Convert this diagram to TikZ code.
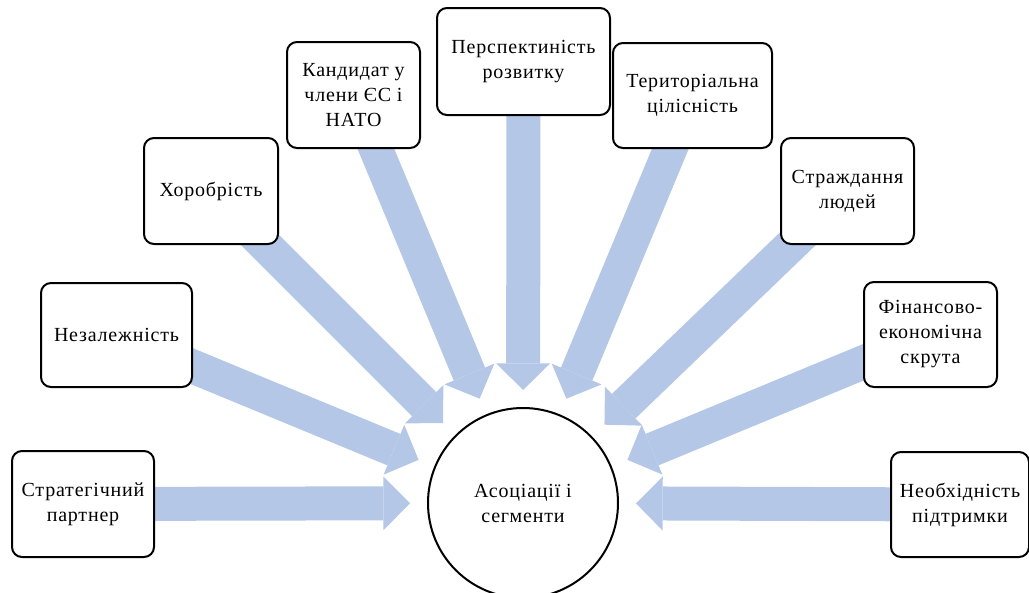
\documentclass[tikz,border=0pt]{standalone}
\usepackage{fontspec}
\setmainfont[LetterSpace=4]{Liberation Serif}
\usetikzlibrary{arrows.meta}
\pgfdeclarelayer{bg}
\pgfsetlayers{bg,main}
\definecolor{arrowblue}{RGB}{180,199,231}
\newcommand{\boxfont}{\fontsize{15}{18.75}\selectfont}

\begin{document}
\begin{tikzpicture}[x=0.75pt,y=0.75pt,yscale=-1,
    box/.style={draw, line width=1.5pt, rounded corners=7.5pt, fill=white,
      align=center, font=\boxfont, inner sep=2pt},
    flow/.style={draw=arrowblue, line width=25.5pt, shorten >=13.5pt,
      -{Triangle[length=20pt,width=40.5pt,line width=0pt,color=arrowblue]}}]
  %uncomment if require: \path (0,593); %set diagram left start at 0, and has height of 593
  \useasboundingbox (0,0) rectangle (1029,593);

  %Shape: Circle [id:assoc]
  \node [draw, circle, line width=1.5pt, minimum size=142.5pt, inner sep=0pt, outer sep=0pt,
    align=center, font=\boxfont] (assoc) at (523,503) {Асоціації і\\сегменти};

  %Shape: Rounded Rect [id:strat]
  \node [box, minimum width=106.5pt, minimum height=79.5pt] (strat) at (83,504) {Стратегічний\\партнер};
  %Shape: Rounded Rect [id:nezal]
  \node [box, minimum width=113.25pt, minimum height=78pt] (nezal) at (116.5,335) {Незалежність};
  %Shape: Rounded Rect [id:khor]
  \node [box, minimum width=100.5pt, minimum height=79.5pt] (khor) at (211,191) {Хоробрість};
  %Shape: Rounded Rect [id:kand]
  \node [box, minimum width=99.75pt, minimum height=79.5pt] (kand) at (353.5,95) {Кандидат у\\члени ЄС і\\НАТО};
  %Shape: Rounded Rect [id:persp]
  \node [box, minimum width=129.75pt, minimum height=80.25pt] (persp) at (523.5,61.5) {Перспектиність\\розвитку};
  %Shape: Rounded Rect [id:terit]
  \node [box, minimum width=119.25pt, minimum height=78.75pt] (terit) at (692.5,95.5) {Територіальна\\цілісність};
  %Shape: Rounded Rect [id:strazh]
  \node [box, minimum width=99.75pt, minimum height=79.5pt] (strazh) at (847.5,191) {Страждання\\людей};
  %Shape: Rounded Rect [id:finans]
  \node [box, minimum width=99.75pt, minimum height=78.75pt] (finans) at (930.5,334.5) {Фінансово-\\економічна\\скрута};
  %Shape: Rounded Rect [id:neobh]
  \node [box, minimum width=103.5pt, minimum height=78.75pt] (neobh) at (960,504.5) {Необхідність\\підтримки};

  %Block Arrows (behind the boxes)
  \begin{pgfonlayer}{bg}
    \foreach \src in {strat,nezal,khor,kand,persp,terit,strazh,finans,neobh}
      \draw [flow] (\src.center) -- (assoc);
  \end{pgfonlayer}

\end{tikzpicture}
\end{document}
